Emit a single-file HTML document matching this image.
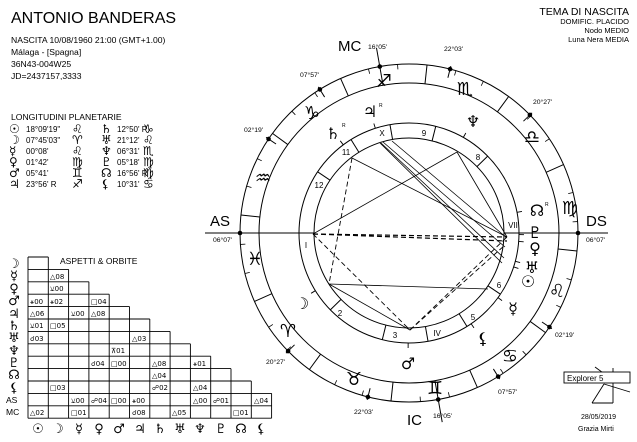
<!DOCTYPE html>
<html><head><meta charset="utf-8"><style>
html,body{margin:0;padding:0;background:#fff;}
svg{display:block;font-family:"Liberation Sans",sans-serif;}
.g{font-family:"DejaVu Sans",sans-serif;}
</style></head><body>
<svg width="637" height="442" viewBox="0 0 637 442" xmlns="http://www.w3.org/2000/svg">
<rect width="637" height="442" fill="#fff"/>
<text x="11" y="23" font-size="16">ANTONIO BANDERAS</text>
<g font-size="8.6">
<text x="11" y="43">NASCITA 10/08/1960 21:00 (GMT+1.00)</text>
<text x="11" y="55">Málaga -  [Spagna]</text>
<text x="11" y="67">36N43-004W25</text>
<text x="11" y="79">JD=2437157,3333</text>
<text x="11" y="120">LONGITUDINI PLANETARIE</text>
</g>
<g font-size="8">
<text x="26" y="132">18°09'19"</text><text x="117" y="132">12°50' R</text>
<text x="26" y="143">07°45'03"</text><text x="117" y="143">21°12'</text>
<text x="26" y="154">00°08'</text><text x="117" y="154">06°31'</text>
<text x="26" y="165">01°42'</text><text x="117" y="165">05°18'</text>
<text x="26" y="176">05°41'</text><text x="117" y="176">16°56' R</text>
<text x="26" y="187">23°56' R</text><text x="117" y="187">10°31'</text>
</g>
<g class="g" font-size="12">
<text x="9" y="133">☉</text><text x="72" y="133">♌</text><text x="101" y="133">♄</text><text x="143" y="133">♑</text>
<text x="9" y="144">☽</text><text x="72" y="144">♈</text><text x="101" y="144">♅</text><text x="143" y="144">♌</text>
<text x="9" y="155">☿</text><text x="72" y="155">♌</text><text x="101" y="155">♆</text><text x="143" y="155">♏</text>
<text x="9" y="166">♀</text><text x="72" y="166">♍</text><text x="101" y="166">♇</text><text x="143" y="166">♍</text>
<text x="9" y="177">♂</text><text x="72" y="177">♊</text><text x="101" y="177">☊</text><text x="143" y="177">♍</text>
<text x="9" y="188">♃</text><text x="72" y="188">♐</text><text x="101" y="188">⚸</text><text x="143" y="188">♋</text>
</g>
<g font-size="10.5" text-anchor="end">
<text x="629" y="15">TEMA DI NASCITA</text>
</g>
<g font-size="7.5" text-anchor="end">
<text x="629" y="24">DOMIFIC. PLACIDO</text>
<text x="629" y="33">Nodo MEDIO</text>
<text x="629" y="42">Luna Nera MEDIA</text>
</g>

<text x="60" y="264" font-size="8.5">ASPETTI &amp; ORBITE</text>
<g stroke="#000" stroke-width="0.9" fill="none">
<line x1="28" y1="257" x2="48.3" y2="257"/>
<line x1="28" y1="269.4" x2="68.6" y2="269.4"/>
<line x1="28" y1="281.8" x2="88.9" y2="281.8"/>
<line x1="28" y1="294.2" x2="109.2" y2="294.2"/>
<line x1="28" y1="306.6" x2="129.5" y2="306.6"/>
<line x1="28" y1="319" x2="149.8" y2="319"/>
<line x1="28" y1="331.4" x2="170.1" y2="331.4"/>
<line x1="28" y1="343.8" x2="190.4" y2="343.8"/>
<line x1="28" y1="356.2" x2="210.7" y2="356.2"/>
<line x1="28" y1="368.6" x2="231" y2="368.6"/>
<line x1="28" y1="381" x2="251.3" y2="381"/>
<line x1="28" y1="393.4" x2="271.6" y2="393.4"/>
<line x1="28" y1="405.8" x2="271.6" y2="405.8"/>
<line x1="28" y1="418.2" x2="271.6" y2="418.2"/>
<line x1="28" y1="257" x2="28" y2="418.2"/>
<line x1="48.3" y1="257" x2="48.3" y2="418.2"/>
<line x1="68.6" y1="269.4" x2="68.6" y2="418.2"/>
<line x1="88.9" y1="281.8" x2="88.9" y2="418.2"/>
<line x1="109.2" y1="294.2" x2="109.2" y2="418.2"/>
<line x1="129.5" y1="306.6" x2="129.5" y2="418.2"/>
<line x1="149.8" y1="319" x2="149.8" y2="418.2"/>
<line x1="170.1" y1="331.4" x2="170.1" y2="418.2"/>
<line x1="190.4" y1="343.8" x2="190.4" y2="418.2"/>
<line x1="210.7" y1="356.2" x2="210.7" y2="418.2"/>
<line x1="231" y1="368.6" x2="231" y2="418.2"/>
<line x1="251.3" y1="381" x2="251.3" y2="418.2"/>
<line x1="271.6" y1="393.4" x2="271.6" y2="418.2"/>
</g>
<g class="g" font-size="13" text-anchor="middle">
<text x="14" y="268">☽</text><text x="14" y="280">☿</text><text x="14" y="293">♀</text>
<text x="14" y="305">♂</text><text x="14" y="318">♃</text><text x="14" y="330">♄</text>
<text x="14" y="342">♅</text><text x="14" y="355">♆</text><text x="14" y="367">♇</text>
<text x="14" y="379">☊</text><text x="14" y="392">⚸</text>
<text x="38" y="433">☉</text><text x="58" y="433">☽</text><text x="79" y="433">☿</text>
<text x="99" y="433">♀</text><text x="119" y="433">♂</text><text x="140" y="433">♃</text>
<text x="160" y="433">♄</text><text x="180" y="433">♅</text><text x="200" y="433">♆</text>
<text x="221" y="433">♇</text><text x="241" y="433">☊</text><text x="261" y="433">⚸</text>
</g>
<text x="6" y="403" font-size="8.5">AS</text>
<text x="6" y="415" font-size="8.5">MC</text>
<g font-size="7" class="g">
<text x="50" y="279">△08</text>
<text x="50" y="291">⚺00</text>
<text x="30" y="304">⚹00</text><text x="50" y="304">⚹02</text><text x="91" y="304">□04</text>
<text x="30" y="316">△06</text><text x="71" y="316">⚺00</text><text x="91" y="316">△08</text>
<text x="30" y="328">⚺01</text><text x="50" y="328">□05</text>
<text x="30" y="341">☌03</text><text x="132" y="341">△03</text>
<text x="111" y="353">⊼01</text>
<text x="91" y="366">☌04</text><text x="111" y="366">□00</text><text x="152" y="366">△08</text><text x="193" y="366">⚹01</text>
<text x="152" y="378">△04</text>
<text x="50" y="390">□03</text><text x="152" y="390">☍02</text><text x="193" y="390">△04</text>
<text x="71" y="403">⚺00</text><text x="91" y="403">☍04</text><text x="111" y="403">□00</text><text x="132" y="403">⚹00</text><text x="193" y="403">△00</text><text x="213" y="403">☍01</text><text x="254" y="403">△04</text>
<text x="30" y="415">△02</text><text x="71" y="415">□01</text><text x="132" y="415">☌08</text><text x="172" y="415">△05</text><text x="233" y="415">□01</text>
</g>

<g stroke="#000" fill="none" stroke-width="1">
<circle cx="409" cy="233" r="169"/>
<circle cx="409" cy="233" r="150"/>
<circle cx="409" cy="233" r="110"/>
<circle cx="409" cy="233" r="95"/>
</g>
<g transform="translate(409 233)" stroke="#000" stroke-width="1">
<g>
<line x1="150" x2="169" transform="rotate(156.12)"/><line x1="150" x2="169" transform="rotate(126.12)"/>
<line x1="150" x2="169" transform="rotate(96.12)"/><line x1="150" x2="169" transform="rotate(66.12)"/>
<line x1="150" x2="169" transform="rotate(36.12)"/><line x1="150" x2="169" transform="rotate(6.12)"/>
<line x1="150" x2="169" transform="rotate(-23.88)"/><line x1="150" x2="169" transform="rotate(-53.88)"/>
<line x1="150" x2="169" transform="rotate(-83.88)"/><line x1="150" x2="169" transform="rotate(-113.88)"/>
<line x1="150" x2="169" transform="rotate(-143.88)"/><line x1="150" x2="169" transform="rotate(-173.88)"/>
</g>
<g stroke-width="0.8">
<line x1="164" x2="169" transform="rotate(146.12)"/><line x1="164" x2="169" transform="rotate(136.12)"/>
<line x1="164" x2="169" transform="rotate(116.12)"/><line x1="164" x2="169" transform="rotate(106.12)"/>
<line x1="164" x2="169" transform="rotate(86.12)"/><line x1="164" x2="169" transform="rotate(76.12)"/>
<line x1="164" x2="169" transform="rotate(56.12)"/><line x1="164" x2="169" transform="rotate(46.12)"/>
<line x1="164" x2="169" transform="rotate(26.12)"/><line x1="164" x2="169" transform="rotate(16.12)"/>
<line x1="164" x2="169" transform="rotate(-3.88)"/><line x1="164" x2="169" transform="rotate(-13.88)"/>
<line x1="164" x2="169" transform="rotate(-33.88)"/><line x1="164" x2="169" transform="rotate(-43.88)"/>
<line x1="164" x2="169" transform="rotate(-63.88)"/><line x1="164" x2="169" transform="rotate(-73.88)"/>
<line x1="164" x2="169" transform="rotate(-93.88)"/><line x1="164" x2="169" transform="rotate(-103.88)"/>
<line x1="164" x2="169" transform="rotate(-123.88)"/><line x1="164" x2="169" transform="rotate(-133.88)"/>
<line x1="164" x2="169" transform="rotate(-153.88)"/><line x1="164" x2="169" transform="rotate(-163.88)"/>
<line x1="164" x2="169" transform="rotate(176.12)"/><line x1="164" x2="169" transform="rotate(166.12)"/>
</g>
<g>
<line x1="95" x2="110" transform="rotate(135.67)"/><line x1="95" x2="110" transform="rotate(104.07)"/>
<line x1="95" x2="110" transform="rotate(80.04)"/><line x1="95" x2="110" transform="rotate(58.17)"/>
<line x1="95" x2="110" transform="rotate(33.8)"/><line x1="95" x2="110" transform="rotate(-44.33)"/>
<line x1="95" x2="110" transform="rotate(-75.93)"/><line x1="95" x2="110" transform="rotate(-99.96)"/>
<line x1="95" x2="110" transform="rotate(-121.83)"/><line x1="95" x2="110" transform="rotate(-146.2)"/>
<line x1="160" x2="172" transform="rotate(135.67)"/><line x1="160" x2="172" transform="rotate(104.07)"/>
<line x1="160" x2="172" transform="rotate(58.17)"/>
<line x1="160" x2="172" transform="rotate(33.8)"/><line x1="160" x2="172" transform="rotate(-44.33)"/>
<line x1="160" x2="172" transform="rotate(-75.93)"/>
<line x1="160" x2="172" transform="rotate(-121.83)"/><line x1="160" x2="172" transform="rotate(-146.2)"/>
<line x1="150" x2="188" transform="rotate(-99.96)"/>
<line x1="150" x2="192" transform="rotate(80.04)"/>
</g>
<g fill="#000" stroke="none">
<circle cx="169" cy="0" r="2.3" transform="rotate(135.67)"/><circle cx="169" cy="0" r="2.3" transform="rotate(104.07)"/>
<circle cx="169" cy="0" r="2.3" transform="rotate(80.04)"/><circle cx="169" cy="0" r="2.3" transform="rotate(58.17)"/>
<circle cx="169" cy="0" r="2.3" transform="rotate(33.8)"/><circle cx="169" cy="0" r="2.3" transform="rotate(-44.33)"/>
<circle cx="169" cy="0" r="2.3" transform="rotate(-75.93)"/><circle cx="169" cy="0" r="2.3" transform="rotate(-99.96)"/>
<circle cx="169" cy="0" r="2.3" transform="rotate(-121.83)"/><circle cx="169" cy="0" r="2.3" transform="rotate(-146.2)"/>
<circle cx="169" cy="0" r="2.3" transform="rotate(180)"/><circle cx="169" cy="0" r="2.3"/>
</g>
<g stroke-width="0.9">
<line x1="110" x2="115" transform="rotate(17.97)"/><line x1="110" x2="115" transform="rotate(148.37)"/>
<line x1="110" x2="115" transform="rotate(35.99)"/><line x1="110" x2="115" transform="rotate(4.42)"/>
<line x1="110" x2="115" transform="rotate(90.44)"/><line x1="110" x2="115" transform="rotate(-107.81)"/>
<line x1="110" x2="115" transform="rotate(-126.71)"/><line x1="110" x2="115" transform="rotate(14.92)"/>
<line x1="110" x2="115" transform="rotate(-60.4)"/><line x1="110" x2="115" transform="rotate(0.82)"/>
<line x1="110" x2="115" transform="rotate(-10.81)"/><line x1="110" x2="115" transform="rotate(55.6)"/>
</g>
</g>
<g stroke="#000" stroke-width="1">
<line x1="205" y1="233" x2="314" y2="233"/>
<line x1="504" y1="233" x2="608" y2="233"/>
</g>
<g stroke="#000" stroke-width="0.8" fill="none">
<line x1="313" y1="234" x2="457" y2="152"/>
<line x1="352" y1="158" x2="507" y2="237"/>
<line x1="329" y1="284" x2="488" y2="289"/>
<line x1="329" y1="284" x2="410" y2="330"/>
<line x1="457" y1="152" x2="507" y2="237"/>
<line x1="380" y1="143" x2="502" y2="263"/>
<line x1="381" y1="143" x2="504" y2="258"/>
<line x1="383" y1="142" x2="505" y2="247"/>
<line x1="392" y1="141" x2="507" y2="238"/>
</g>
<g stroke="#000" stroke-width="0.9" fill="none" stroke-dasharray="5,3">
<line x1="313" y1="234" x2="507" y2="237" stroke-width="1.2"/>
<line x1="313" y1="234" x2="507" y2="241" stroke-width="1.2"/>
<line x1="313" y1="234" x2="410" y2="330"/>
<line x1="352" y1="158" x2="329" y2="284"/>
<line x1="410" y1="330" x2="507" y2="237"/>
<line x1="410" y1="330" x2="505" y2="245"/>
</g>
<g font-size="15">
<text x="210" y="226">AS</text><text x="586" y="226">DS</text>
<text x="338" y="51">MC</text><text x="407" y="425">IC</text>
</g>
<g font-size="6.8">
<text x="368" y="49">16°05'</text><text x="444" y="51">22°03'</text>
<text x="300" y="77">07°57'</text><text x="533" y="104">20°27'</text>
<text x="244" y="132">02°19'</text><text x="213" y="242">06°07'</text>
<text x="586" y="242">06°07'</text><text x="266" y="364">20°27'</text>
<text x="555" y="337">02°19'</text><text x="498" y="394">07°57'</text>
<text x="354" y="414">22°03'</text><text x="433" y="418">16°05'</text>
</g>
<g font-size="8" text-anchor="middle">
<text x="382" y="136">X</text><text x="424" y="136">9</text><text x="478" y="160">8</text>
<text x="513" y="228">VII</text><text x="499" y="288">6</text><text x="473" y="320">5</text>
<text x="437" y="336">IV</text><text x="395" y="338">3</text><text x="340" y="316">2</text>
<text x="306" y="248">I</text><text x="319" y="188">12</text><text x="346" y="155">11</text>
</g>
<g class="g" font-size="18" text-anchor="middle">
<text x="384" y="87">♐</text><text x="465" y="95">♏</text><text x="532" y="143">♎</text>
<text x="570" y="214">♍</text><text x="557" y="297">♌</text><text x="510" y="362">♋</text>
<text x="435" y="394">♊</text><text x="354" y="385">♉</text><text x="288" y="337">♈</text>
<text x="255" y="265">♓</text><text x="263" y="184">♒</text><text x="312" y="119">♑</text>
</g>
<g class="g" font-size="16" text-anchor="middle">
<text x="370" y="117">♃</text><text x="333" y="139">♄</text><text x="473" y="127">♆</text>
<text x="537" y="216">☊</text><text x="535" y="238">♇</text><text x="535" y="254">♀</text>
<text x="532" y="273">♅</text><text x="528" y="287">☉</text><text x="513" y="314">☿</text>
<text x="483" y="344">⚸</text><text x="408" y="369">♂</text><text x="302" y="309">☽</text>
</g>
<g font-size="5">
<text x="379" y="107">R</text><text x="342" y="127">R</text><text x="545" y="206">R</text>
</g>
<g stroke="#000" stroke-width="0.9" fill="none">
<line x1="595" y1="367" x2="610" y2="378"/>
<line x1="613" y1="368" x2="613" y2="403"/>
<line x1="592" y1="403" x2="604" y2="384"/>
<line x1="604" y1="384" x2="630" y2="392"/>
<line x1="592" y1="403" x2="613" y2="403"/>
<rect x="564" y="372" width="66" height="11" fill="#fff"/>
</g>
<text x="567" y="381" font-size="8">Explorer 5</text>
<text x="581" y="419" font-size="7">28/05/2019</text>
<text x="578" y="431" font-size="7">Grazia Mirti</text>
</svg>
</body></html>
